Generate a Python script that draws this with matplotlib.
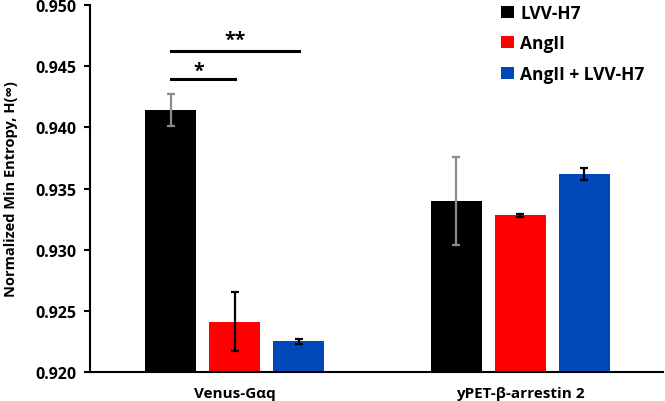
import numpy as np
import matplotlib
matplotlib.use("Agg")
import matplotlib.pyplot as plt

# Data
groups = ["Venus-Gαq", "yPET-β-arrestin 2"]
series = ["LVV-H7", "AngII", "AngII + LVV-H7"]
values = {
    "LVV-H7": [0.9414, 0.9340],
    "AngII": [0.9241, 0.9328],
    "AngII + LVV-H7": [0.9225, 0.9362],
}
errors = {
    "LVV-H7": [0.0013, 0.0036],
    "AngII": [0.0024, 0.0001],
    "AngII + LVV-H7": [0.0002, 0.0005],
}
colors = {"LVV-H7": "#000000", "AngII": "#FF0000", "AngII + LVV-H7": "#0047BA"}
err_colors = {"LVV-H7": "#8C8C8C", "AngII": "#000000", "AngII + LVV-H7": "#000000"}

plt.rcParams['font.family'] = ['Open Sans', 'DejaVu Sans']
plt.rcParams['font.weight'] = 'bold'

fig = plt.figure(figsize=(6.65, 4.02), dpi=100)
ax = fig.add_axes([0.1353, 0.0721, 0.862, 0.913])

x = np.arange(len(groups))
width = 0.178
offset = 0.224
for i, s in enumerate(series):
    ax.bar(x + (i - 1) * offset, values[s], width, color=colors[s], label=s,
           yerr=errors[s], capsize=3,
           error_kw=dict(ecolor=err_colors[s], elinewidth=1.6, capthick=1.6))

# significance brackets
ax.plot([-offset, 0], [0.94395, 0.94395], color="black", lw=2.2)
ax.text(-0.126, 0.9442, "*", ha="center", va="baseline", fontsize=14, fontweight="bold")
ax.plot([-offset, offset], [0.94627, 0.94627], color="black", lw=2.2)
ax.text(0, 0.94673, "**", ha="center", va="baseline", fontsize=14, fontweight="bold")

ax.set_ylim(0.920, 0.950)
ax.set_xlim(-0.507, 1.5)
ax.set_yticks(np.arange(0.920, 0.9501, 0.005))
ax.yaxis.set_major_formatter(matplotlib.ticker.FormatStrFormatter("%.3f"))
ax.set_xticks(x)
ax.set_xticklabels(groups, fontsize=11, fontweight="bold")
ax.tick_params(axis="x", length=0, pad=10)
ax.tick_params(axis="y", labelsize=11.5, length=4, width=1.5, direction="out", pad=6)
ax.set_ylabel("Normalized Min Entropy, H(∞)", fontsize=10.5, fontweight="bold", labelpad=12)
for sp in ["top", "right"]:
    ax.spines[sp].set_visible(False)
ax.spines["left"].set_linewidth(1.5)
ax.spines["bottom"].set_linewidth(1.5)

leg = ax.legend(loc="upper right", bbox_to_anchor=(0.995, 1.046), frameon=False,
                fontsize=12.5, handlelength=0.7, handleheight=0.7,
                handletextpad=0.4, labelspacing=0.72)
for t in leg.get_texts():
    t.set_fontweight("bold")

fig.savefig("out.png", dpi=100)
